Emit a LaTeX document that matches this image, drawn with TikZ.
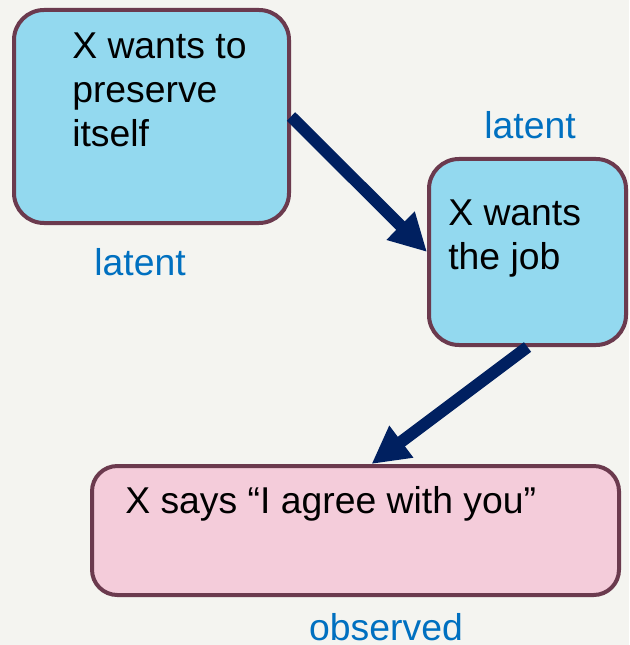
\documentclass[tikz,border=0pt]{standalone}
\usepackage{fontspec}
\setmainfont{Liberation Sans}
\usetikzlibrary{arrows.meta}
\usetikzlibrary{calc}

\definecolor{bgcol}{HTML}{F4F4F0}
\definecolor{boxblue}{HTML}{93D9EF}
\definecolor{boxpink}{HTML}{F4CCDA}
\definecolor{boxline}{HTML}{6B3A4E}
\definecolor{arrownavy}{HTML}{002060}
\definecolor{labelblue}{HTML}{0070C0}

\tikzset{
  box/.style={draw=boxline,line width=3pt,rounded corners=22.5pt,inner sep=0pt},
  txt/.style={anchor=north west,inner sep=0pt,align=left,font=\fontsize{28}{33}\selectfont},
  tag/.style={anchor=base,inner sep=0pt,text=labelblue,font=\fontsize{28}{33}\selectfont},
  link/.style={->,line width=9pt,color=arrownavy}
}

\begin{document}
\begin{tikzpicture}[line cap=round,line join=round,>={Triangle[length=28pt,width=28pt]},x=0.75pt,y=-0.75pt]
        \useasboundingbox (0,0) rectangle (629,645);
        \fill [color=bgcol] (0,0) rectangle (629,645);
        % boxes
        \node [box,fill=boxblue,minimum width=206.25pt,minimum height=159.75pt] (preserve) at (151.5,116.5) {};
        \node [box,fill=boxblue,minimum width=147.75pt,minimum height=139.5pt] (job) at (527.5,252) {};
        \node [box,fill=boxpink,rounded corners=19pt,minimum width=395.25pt,minimum height=96.75pt] (says) at (355.5,530.5) {};
        % texts
        \node [txt] (preservetxt) at (72,33) {X wants to\\preserve\\itself};
        \node [txt] (jobtxt) at (448,200) {X wants\\the job};
        \node [txt] (saystxt) at (125,486) {X says “I agree with you”};
        \node [tag] (preservetag) at (140,275) {latent};
        \node [tag] (jobtag) at (530,139) {latent};
        \node [tag] (saystag) at (386,640) {observed};
        % arrows
        \draw [link,line cap=butt] (preserve.east) -- (job.west);
        \draw [link,line cap=butt] (job.south) -- ([xshift=12pt]says.north);
\end{tikzpicture}
\end{document}
